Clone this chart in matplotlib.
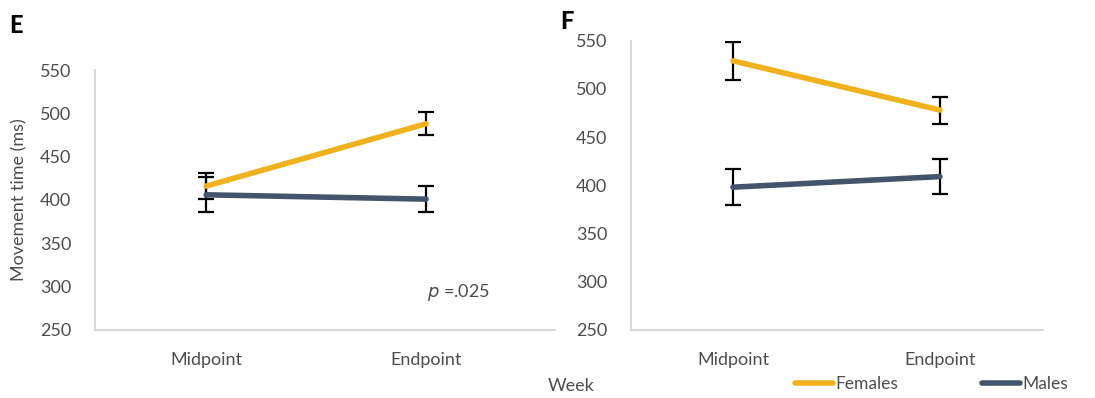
import matplotlib.pyplot as plt

plt.rcParams['font.family'] = ['Lato', 'DejaVu Sans']

weeks = ['Midpoint', 'Endpoint']

# panel E: movement time (ms), mean and error
e_females = [416, 488]
e_females_err = [15, 13]
e_males = [406, 401]
e_males_err = [20, 15]

# panel F
f_females = [529, 478]
f_females_err = [20, 14]
f_males = [398, 409]
f_males_err = [18.5, 18]

yticks = [250, 300, 350, 400, 450, 500, 550]

gold = '#F0B21C'
slate = '#44546A'
grey_txt = '#4D4D4D'
axis_col = '#D9D9D9'

fig = plt.figure(figsize=(10.95, 3.98), dpi=100)
axE = fig.add_axes([0.0868, 0.171, 0.420, 0.653])
axF = fig.add_axes([0.576, 0.171, 0.3765, 0.727])


def draw_panel(ax, fem, fem_err, mal, mal_err, xlim):
    x = range(len(weeks))
    ax.errorbar(x, fem, yerr=fem_err, color=gold, lw=4, ecolor='black',
                elinewidth=1.6, capsize=6, capthick=1.6, solid_capstyle='round',
                label='Females', zorder=3)
    ax.errorbar(x, mal, yerr=mal_err, color=slate, lw=4, ecolor='black',
                elinewidth=1.6, capsize=6, capthick=1.6, solid_capstyle='round',
                label='Males', zorder=3)
    ax.set_xlim(xlim)
    ax.set_ylim(250, 550)
    ax.set_yticks(yticks)
    ax.set_xticks(list(x))
    ax.set_xticklabels(weeks)
    ax.tick_params(length=0, labelsize=13, colors=grey_txt)
    ax.tick_params(axis='y', pad=17)
    ax.tick_params(axis='x', pad=16)
    for s in ['top', 'right']:
        ax.spines[s].set_visible(False)
    for s in ['left', 'bottom']:
        ax.spines[s].set_color(axis_col)
        ax.spines[s].set_linewidth(1.5)


draw_panel(axE, e_females, e_females_err, e_males, e_males_err, (-0.505, 1.586))
draw_panel(axF, f_females, f_females_err, f_males, f_males_err, (-0.494, 1.498))

axE.set_ylabel('Movement time (ms)', fontsize=13, color=grey_txt, labelpad=9)
axE.text(0.859, 0.145, '$\\it{p}$ =.025', transform=axE.transAxes, fontsize=13,
         color=grey_txt, ha='right', va='center')

fig.text(0.008, 0.935, 'E', fontsize=17, fontweight='black', va='center')
fig.text(0.512, 0.945, 'F', fontsize=17, fontweight='black', va='center')
fig.text(0.5, 0.03, 'Week', fontsize=13, color=grey_txt, va='center')

handles, labels = axF.get_legend_handles_labels()
handles = [h[0] for h in handles]
fig.legend(handles, labels, loc='center', bbox_to_anchor=(0.851, 0.035), ncol=2,
           frameon=False, fontsize=12.5, handlelength=2.2, handletextpad=0.15,
           columnspacing=4.8, labelcolor=grey_txt)

fig.savefig('out.png', dpi=100)
